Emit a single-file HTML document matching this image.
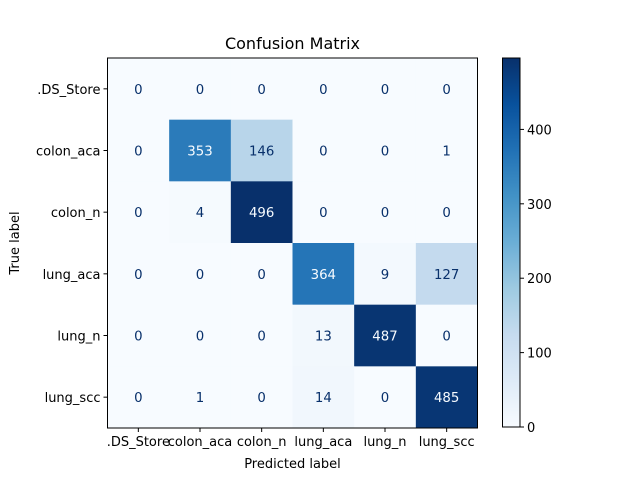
<!DOCTYPE html>
<html><head><meta charset="utf-8"><style>body{margin:0;background:#fff}svg{display:block;font-family:"DejaVu Sans","Liberation Sans",sans-serif}</style></head>
<body>
<svg id="chart" width="640" height="480" viewBox="0 0 640 480" xmlns="http://www.w3.org/2000/svg"></svg>
<script>
const labels = [".DS_Store","colon_aca","colon_n","lung_aca","lung_n","lung_scc"];
const row0 = [0,0,0,0,0,0];
const row1 = [0,353,146,0,0,1];
const row2 = [0,4,496,0,0,0];
const row3 = [0,0,0,364,9,127];
const row4 = [0,0,0,13,487,0];
const row5 = [0,1,0,14,0,485];
const matrix = [row0,row1,row2,row3,row4,row5];
const cbTicks = [0,100,200,300,400];

const NS="http://www.w3.org/2000/svg";
const svg=document.getElementById('chart');
function mk(t,a,p){const e=document.createElementNS(NS,t);for(const k in a)e.setAttribute(k,a[k]);(p||svg).appendChild(e);return e;}
const stops=["#f7fbff","#deebf7","#c6dbef","#9ecae1","#6baed6","#4292c6","#2171b5","#08519c","#08306b"].map(h=>[1,3,5].map(i=>parseInt(h.substr(i,2),16)));
function blues(t){t=Math.max(0,Math.min(1,t));const f=t*8,i=Math.min(7,Math.floor(f)),r=f-i;const c=stops[i].map((v,k)=>Math.round(v+(stops[i+1][k]-v)*r));return `rgb(${c.join(',')})`;}
const all=matrix.flat();const vmin=Math.min(...all),vmax=Math.max(...all);
const L=107.5,T=58,S=(477.5-107.5)/labels.length;
const n=labels.length;
matrix.forEach((row,i)=>row.forEach((v,j)=>{
  const t=(v-vmin)/(vmax-vmin);
  const r=mk('rect',{x:L+j*S,y:T+i*S,width:S+0.5,height:S+0.5,fill:blues(t)});
  
  
  const tx=mk('text',{x:L+(j+.5)*S,y:T+(i+.5)*S+5,'text-anchor':'middle','font-size':13.3,fill:v>(vmax+vmin)/2?'#f7fbff':'#08306b'});
  tx.textContent=v;
  
  
}));
const fr=mk('rect',{x:L,y:T,width:S*n,height:S*n,fill:'none',stroke:'#000','stroke-width':1});


labels.forEach((lb,k)=>{
  const cx=L+(k+.5)*S, cy=T+(k+.5)*S;
  mk('line',{x1:cx,y1:T+S*n,x2:cx,y2:T+S*n+4,stroke:'#000'});
  const xt=mk('text',{x:cx,y:T+S*n+18,'text-anchor':'middle','font-size':13});xt.textContent=lb;
  
  
  mk('line',{x1:L-4,y1:cy,x2:L,y2:cy,stroke:'#000'});
  const yt=mk('text',{x:L-7,y:cy+5,'text-anchor':'end','font-size':13});yt.textContent=lb;
  
  
});
const title=mk('text',{x:L+S*n/2,y:49,'text-anchor':'middle','font-size':16});title.textContent='Confusion Matrix';


const xl=mk('text',{x:L+S*n/2,y:468,'text-anchor':'middle','font-size':13});xl.textContent='Predicted label';


const yl=mk('text',{x:19,y:T+S*n/2,'text-anchor':'middle','font-size':13,transform:`rotate(-90 19 ${T+S*n/2})`});yl.textContent='True label';


const CX=502.5,CW=17.5,CT=58,CB=427;
const defs=mk('defs',{});const g=mk('linearGradient',{id:'cb',x1:0,y1:1,x2:0,y2:0},defs);
for(let k=0;k<=16;k++)mk('stop',{offset:k/16,'stop-color':blues(k/16)},g);
const cb=mk('rect',{x:CX,y:CT,width:CW,height:CB-CT,fill:'url(#cb)',stroke:'#000','stroke-width':1});


cbTicks.forEach(v=>{
  const y=CB-(v-vmin)/(vmax-vmin)*(CB-CT);
  mk('line',{x1:CX+CW,y1:y,x2:CX+CW+4,y2:y,stroke:'#000'});
  const t=mk('text',{x:CX+CW+7,y:y+5,'font-size':13});t.textContent=v;
  
  
});
</script>
</body></html>
